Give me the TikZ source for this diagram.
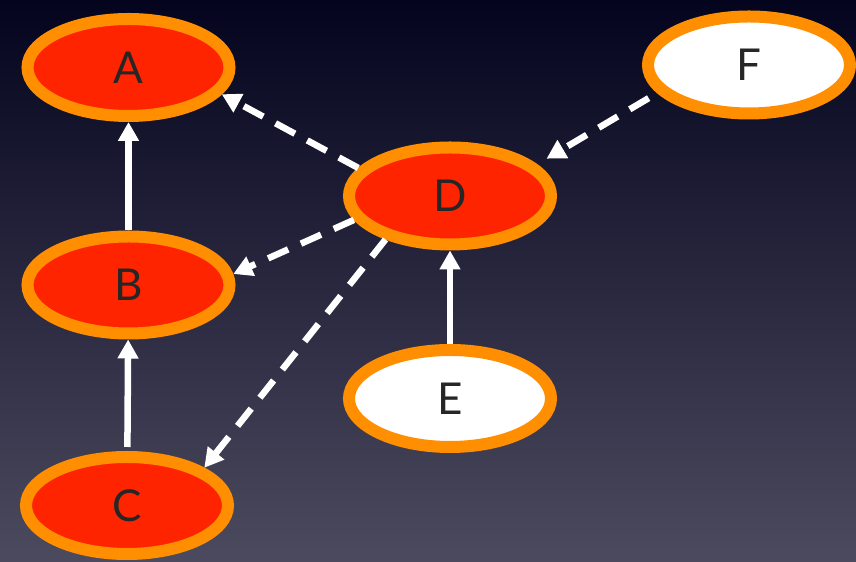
\documentclass[tikz,border=0pt]{standalone}
\usepackage{fontspec}
\setmainfont{Lato}
\usetikzlibrary{shapes.geometric,arrows.meta}

\definecolor{nightblue}{RGB}{4,4,30}
\definecolor{duskgray}{RGB}{76,74,94}
\definecolor{ringorange}{RGB}{255,142,0}
\definecolor{hotred}{RGB}{255,36,0}
\definecolor{inkgray}{RGB}{38,38,38}

\tikzset{
  state/.style={ellipse, draw=ringorange, line width=0.24cm,
    minimum width=4.04cm, minimum height=1.94cm, inner sep=0pt,
    font=\fontsize{25}{25}\selectfont, text=inkgray},
  hot/.style={state, fill=hotred},
  cold/.style={state, fill=white},
  link/.style={draw=white, line width=0.13cm,
    -{Triangle[width=0.4cm,length=0.38cm]}},
  guess/.style={link, dash pattern=on 0.44cm off 0.28cm},
}

\begin{document}
\begin{tikzpicture}
  % backdrop
  \useasboundingbox (0,0) rectangle (17.12,11.24);
  \shade[top color=nightblue, bottom color=duskgray] (0,0) rectangle (17.12,11.24);

  % the six states
  \node[hot]  (A) at (2.57,9.89) {A};
  \node[hot]  (B) at (2.57,5.54) {B};
  \node[hot]  (C) at (2.54,1.13) {C};
  \node[hot]  (D) at (9.0,7.32) {D};
  \node[cold] (E) at (9.0,3.27) {E};
  \node[cold] (F) at (14.98,9.94) {F};

  % solid links
  \draw[link] (B) -- (A);
  \draw[link, shorten <=0.08cm] (C) -- (B);
  \draw[link] (E) -- (D);

  % dashed links out of D, and into it from F
  \draw[guess] (D.163) -- (A.-16);
  \draw[guess] (D.194) -- (B.6);
  \draw[guess] (D.214) -- (C.26);
  \draw[guess, shorten <=0.2cm, shorten >=0.22cm] (F.197) -- (D.20);
\end{tikzpicture}
\end{document}
